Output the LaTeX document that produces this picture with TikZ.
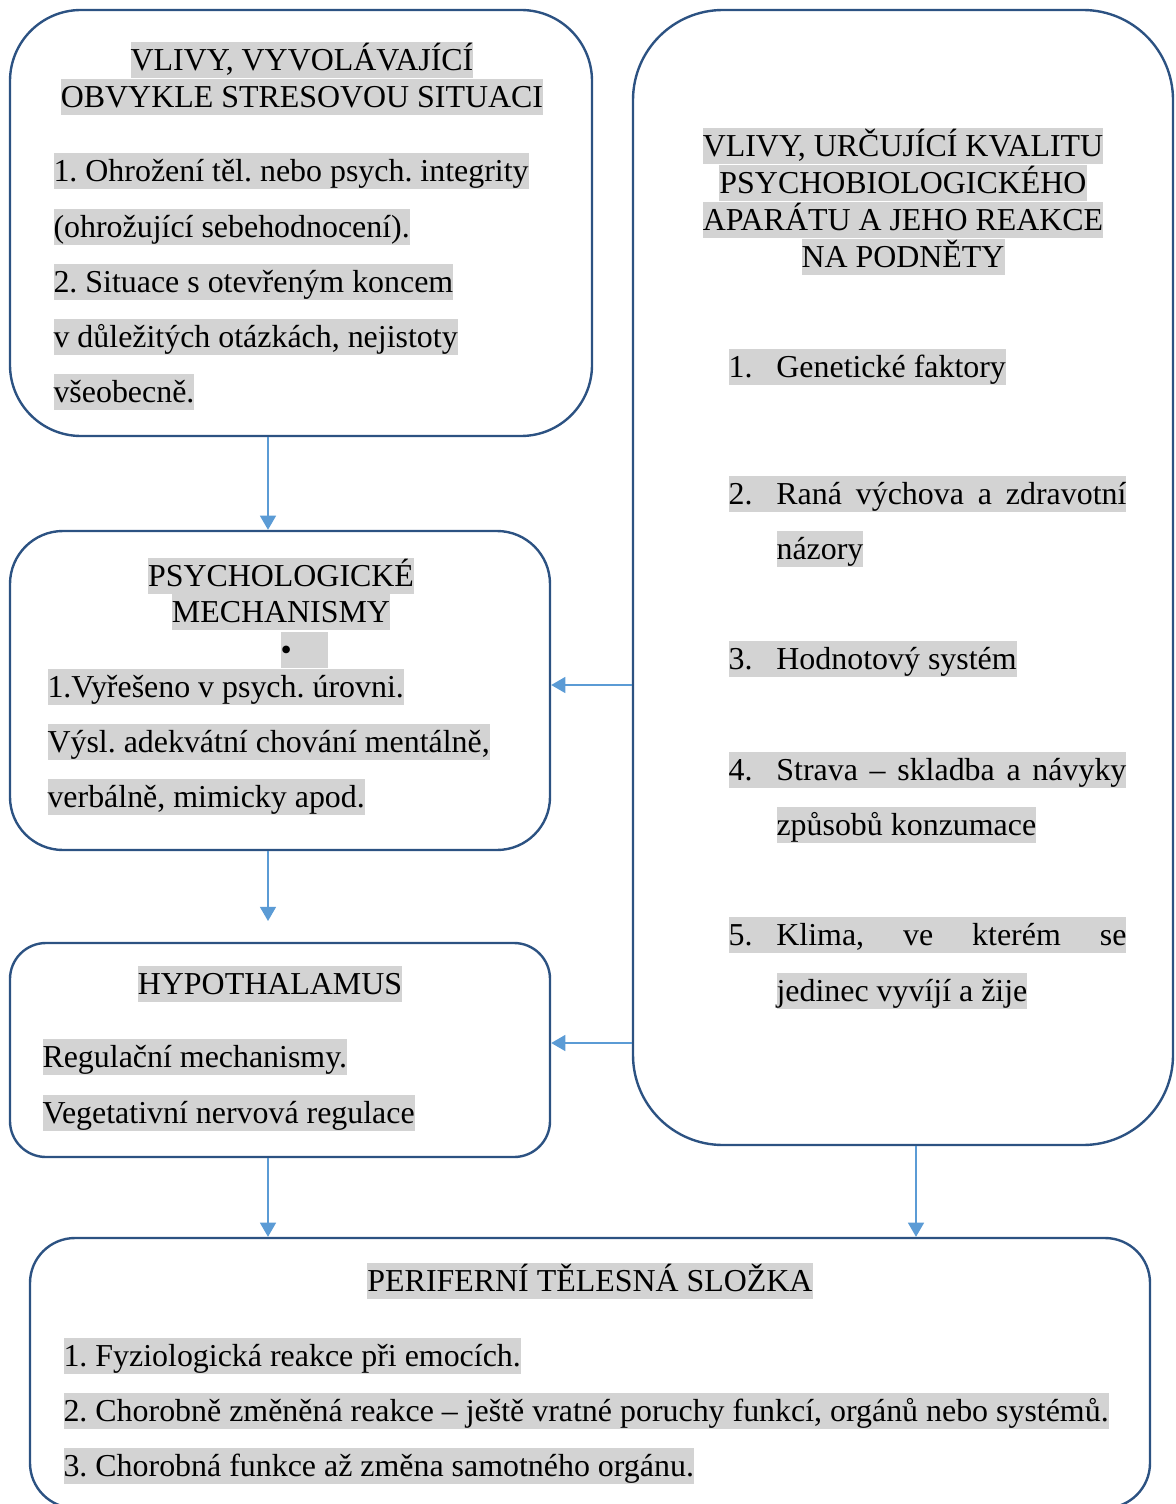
\documentclass[tikz,border=0pt]{standalone}
\usepackage{fontspec}
\setmainfont{Liberation Serif}
\usetikzlibrary{arrows.meta}

\definecolor{boxblue}{RGB}{44,82,130}
\definecolor{arrowblue}{RGB}{91,155,213}
\definecolor{hlgray}{RGB}{211,211,211}

\frenchspacing
\newcommand{\pxu}{0.376pt}
\newcommand{\numitem}[2]{\makebox[18pt][l]{#1}#2}
\newcommand{\spread}[1]{\makebox[131.6pt][s]{#1}}

\tikzset{
	box/.style={draw=boxblue, line width=0.9pt, rounded corners=#1, inner sep=0pt},
	hl/.style={fill=hlgray, inner sep=0pt, text height=10.7pt, text depth=2.6pt},
	link/.style={draw=arrowblue, line width=0.55pt, -{Triangle[width=6pt,length=5.3pt]}}
}

\begin{document}
\begin{tikzpicture}[x=\pxu, y=-\pxu, font=\fontsize{12}{14}\selectfont]
	\clip (0,0) rectangle (1175,1504);
	% boxes
	\node[box=71*\pxu, minimum width=582*\pxu, minimum height=426*\pxu] (stres) at (301,223) {};
	\node[box=90*\pxu, minimum width=540*\pxu, minimum height=1135*\pxu] (kvalita) at (903,577.5) {};
	\node[box=53*\pxu, minimum width=540*\pxu, minimum height=319*\pxu] (psych) at (280,690.5) {};
	\node[box=36*\pxu, minimum width=540*\pxu, minimum height=214*\pxu] (hypo) at (280,1050) {};
	\node[box=45*\pxu, minimum width=1120*\pxu, minimum height=270*\pxu] (perif) at (590,1373) {};

	% top left
	\node[hl] (stresT1) at (302,60) {VLIVY, VYVOLÁVAJÍCÍ};
	\node[hl] (stresT2) at (302,97) {OBVYKLE STRESOVOU SITUACI};
	\node[hl, anchor=west] (stres1) at (53,171) {1. Ohrožení těl. nebo psych. integrity};
	\node[hl, anchor=west] (stres2) at (53,227) {(ohrožující sebehodnocení).};
	\node[hl, anchor=west] (stres3) at (53,282) {2. Situace s otevřeným koncem};
	\node[hl, anchor=west] (stres4) at (53,337) {v důležitých otázkách, nejistoty};
	\node[hl, anchor=west] (stres5) at (53,392) {všeobecně.};

	% right
	\node[hl] (kvalT1) at (903,146) {VLIVY, URČUJÍCÍ KVALITU};
	\node[hl] (kvalT2) at (903,183) {PSYCHOBIOLOGICKÉHO};
	\node[hl] (kvalT3) at (903,220) {APARÁTU A JEHO REAKCE};
	\node[hl] (kvalT4) at (903,257) {NA PODNĚTY};
	\node[hl, anchor=west] (kval1) at (728,367) {\numitem{1.}{Genetické faktory}};
	\node[hl, anchor=west] (kval2) at (728,494) {\numitem{2.}{\spread{Raná výchova a zdravotní}}};
	\node[hl, anchor=west] (kval2b) at (776,549) {názory};
	\node[hl, anchor=west] (kval3) at (728,659) {\numitem{3.}{Hodnotový systém}};
	\node[hl, anchor=west] (kval4) at (728,770) {\numitem{4.}{\spread{Strava – skladba a návyky}}};
	\node[hl, anchor=west] (kval4b) at (776,825) {způsobů konzumace};
	\node[hl, anchor=west] (kval5) at (728,935) {\numitem{5.}{\spread{Klima, ve kterém se}}};
	\node[hl, anchor=west] (kval5b) at (776,991) {jedinec vyvíjí a žije};

	% psychological
	\node[hl] (psychT1) at (281,576) {PSYCHOLOGICKÉ};
	\node[hl] (psychT2) at (281,612) {MECHANISMY};
	\node[hl, anchor=west] (psychB) at (280,650) {\makebox[18pt][l]{•}};
	\node[hl, anchor=west] (psych1) at (47,687) {1.Vyřešeno v psych. úrovni.};
	\node[hl, anchor=west] (psych2) at (47,742) {Výsl. adekvátní chování mentálně,};
	\node[hl, anchor=west] (psych3) at (47,797) {verbálně, mimicky apod.};

	% hypothalamus
	\node[hl] (hypoT) at (270,984) {HYPOTHALAMUS};
	\node[hl, anchor=west] (hypo1) at (42,1057) {Regulační mechanismy.};
	\node[hl, anchor=west] (hypo2) at (42,1113) {Vegetativní nervová regulace};

	% bottom
	\node[hl] (perifT) at (590,1281) {PERIFERNÍ TĚLESNÁ SLOŽKA};
	\node[hl, anchor=west] (perif1) at (63,1356) {1. Fyziologická reakce při emocích.};
	\node[hl, anchor=west] (perif2) at (63,1411) {2. Chorobně změněná reakce – ještě vratné poruchy funkcí, orgánů nebo systémů.};
	\node[hl, anchor=west] (perif3) at (63,1466) {3. Chorobná funkce až změna samotného orgánu.};

	% arrows
	\coordinate (colL) at (268,0);
	\coordinate (colR) at (916,0);
	\coordinate (rowC) at (0,685);
	\coordinate (rowD) at (0,1043);
	\coordinate (stopD) at (268,921);
	\draw[link] (stres.south -| colL) -- (psych.north -| colL);
	\draw[link] (psych.south -| colL) -- (stopD);
	\draw[link] (kvalita.west |- rowC) -- (psych.east |- rowC);
	\draw[link] (kvalita.west |- rowD) -- (hypo.east |- rowD);
	\draw[link] (hypo.south -| colL) -- (perif.north -| colL);
	\draw[link] (kvalita.south -| colR) -- (perif.north -| colR);
\end{tikzpicture}
\end{document}
